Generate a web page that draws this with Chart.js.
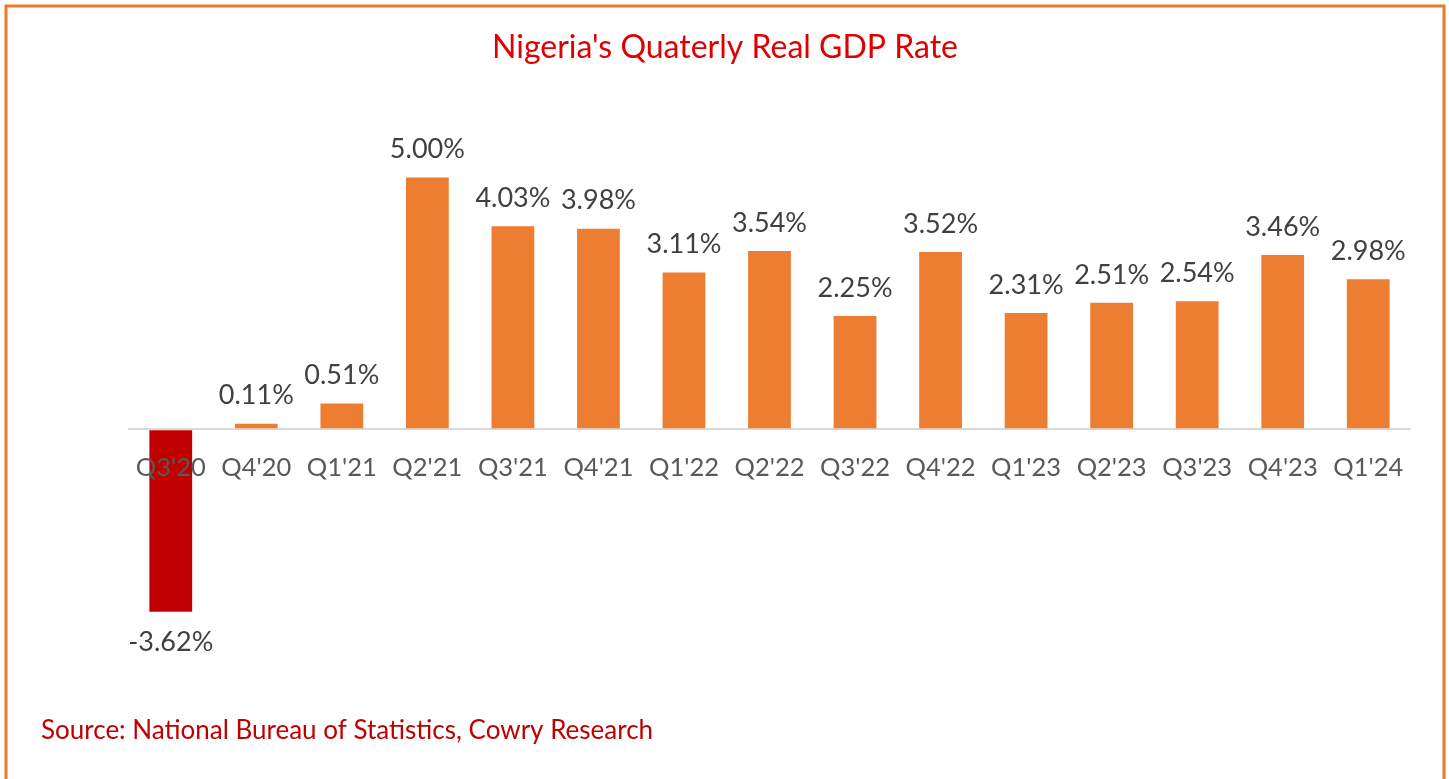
<!DOCTYPE html>
<html>
<head>
<meta charset="utf-8">
<script src="https://cdn.jsdelivr.net/npm/chart.js@4.4.1/dist/chart.umd.min.js"></script>
<style>
  html, body { margin: 0; padding: 0; background: #fff; }
  canvas { display: block; }
</style>
</head>
<body>
<canvas id="gdpChart" width="1449" height="779"></canvas>
<script>
// chart data
var quarters = ["Q3'20", "Q4'20", "Q1'21", "Q2'21", "Q3'21", "Q4'21", "Q1'22", "Q2'22",
                "Q3'22", "Q4'22", "Q1'23", "Q2'23", "Q3'23", "Q4'23", "Q1'24"];
var gdpGrowth = [-3.62, 0.11, 0.51, 5.00, 4.03, 3.98, 3.11, 3.54, 2.25, 3.52, 2.31, 2.51, 2.54, 3.46, 2.98];
var chartTitle = "Nigeria's Quaterly Real GDP Rate";
var sourceNote = 'Source: National Bureau of Statistics, Cowry Research';

var FONT = 'Lato, "Open Sans", sans-serif';

document.addEventListener('DOMContentLoaded', function() {
    var ctx = document.getElementById('gdpChart').getContext('2d');

    // frame, title, source, category + value labels
    var decorations = {
        id: 'decorations',
        beforeDraw: function(chart) {
            var c = chart.ctx;
            c.save();
            c.fillStyle = '#fff';
            c.fillRect(0, 0, chart.width, chart.height);
            c.strokeStyle = '#EB7A2A';
            c.lineWidth = 3;
            c.strokeRect(6, 6, 1438, 820);
            c.restore();
        },
        afterDatasetsDraw: function(chart) {
            var c = chart.ctx;
            var x = chart.scales.x, y = chart.scales.y;
            var zero = y.getPixelForValue(0);
            c.save();
            c.textAlign = 'center';
            c.textBaseline = 'middle';

            c.fillStyle = '#E00000';
            c.font = '32px ' + FONT;
            c.fillText(chartTitle, 725, 48);

            c.font = '25.5px ' + FONT;
            c.fillStyle = '#595959';
            quarters.forEach(function(q, i) {
                c.fillText(q, x.getPixelForValue(i), zero + 38);
            });

            c.font = '27px ' + FONT;
            c.fillStyle = '#404040';
            gdpGrowth.forEach(function(v, i) {
                var py = y.getPixelForValue(v);
                var ly = v >= 0 ? py - 28 : py + 31;
                c.fillText(v.toFixed(2) + '%', x.getPixelForValue(i), ly);
            });

            c.textAlign = 'left';
            c.fillStyle = '#C00000';
            c.font = '26px ' + FONT;
            c.fillText(sourceNote, 41, 731);
            c.restore();
        }
    };

    var gdpChart = new Chart(ctx, {
        type: 'bar',
        data: {
            labels: quarters,
            datasets: [{
                label: 'Real GDP growth',
                data: gdpGrowth,
                backgroundColor: gdpGrowth.map(function(v) { return v < 0 ? '#C00000' : '#ED7D31'; }),
                borderWidth: 0,
                categoryPercentage: 1.0,
                barPercentage: 0.5
            }]
        },
        options: {
            responsive: false,
            animation: false,
            layout: { padding: { left: 128, right: 38, top: 127, bottom: 123 } },
            plugins: {
                legend: { display: false },
                tooltip: { enabled: false }
            },
            scales: {
                x: {
                    display: false,
                    grid: { display: false }
                },
                y: {
                    min: -4.5,
                    max: 6,
                    display: true,
                    border: { display: false },
                    ticks: { display: false, stepSize: 100 },
                    grid: {
                        drawTicks: false,
                        color: function(c) { return c.tick.value === 0 ? '#D9D9D9' : 'rgba(0,0,0,0)'; },
                        lineWidth: 2
                    }
                }
            }
        },
        plugins: [decorations]
    });
});
</script>
</body>
</html>
